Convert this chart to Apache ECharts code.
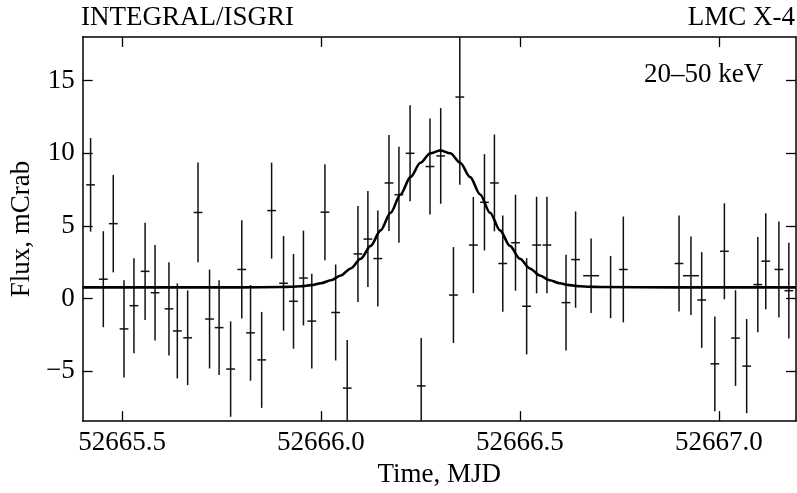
<!DOCTYPE html>
<html>
<head>
<meta charset="utf-8">
<script src="https://cdn.jsdelivr.net/npm/echarts@6/dist/echarts.min.js"></script>
<style>
html,body{margin:0;padding:0;background:#fff;}
#chart{width:797px;height:493px;}
</style>
</head>
<body>
<div id="chart"></div>
<script>
// Observed light curve (MJD, flux in mCrab, 1-sigma error, half bin width)
const mjd = [52665.421, 52665.453, 52665.478, 52665.505, 52665.530, 52665.558, 52665.583, 52665.618, 52665.639, 52665.665,
  52665.691, 52665.720, 52665.744, 52665.773, 52665.801, 52665.823, 52665.851, 52665.876, 52665.906, 52665.931,
  52665.956, 52665.977, 52666.010, 52666.037, 52666.066, 52666.093, 52666.118, 52666.143, 52666.171, 52666.196,
  52666.224, 52666.252, 52666.274, 52666.301, 52666.333, 52666.349, 52666.383, 52666.411, 52666.436, 52666.457,
  52666.489, 52666.517, 52666.542, 52666.568, 52666.616, 52666.640, 52666.679, 52666.728, 52666.760, 52666.900,
  52666.930, 52666.957, 52666.990, 52667.014, 52667.042, 52667.070, 52667.098, 52667.118, 52667.151, 52667.176];
const flux = [7.83, 1.34, 5.16, -2.08, -0.48, 1.88, 0.41, -0.70, -2.22, -2.69,
  5.93, -1.40, -1.99, -4.84, 2.01, -2.35, -4.21, 6.06, 1.06, -0.18,
  1.42, -1.54, 5.95, -0.95, -6.15, 3.08, 4.10, 2.76, 7.96, 7.15,
  10.0, -6.0, 9.09, 9.82, 0.25, 13.87, 3.69, 6.63, 7.96, 2.42,
  3.85, -0.52, 3.69, 3.69, -0.27, 2.69, 1.58, 0.80, 2.01, 2.42,
  1.58, -0.09, -4.48, 3.26, -2.71, -4.64, 0.97, 2.58, 2.01, 0.55];
const fluxErr = [3.22, 3.30, 3.35, 3.34, 3.27, 3.35, 3.28, 3.21, 3.27, 3.26,
  3.43, 3.40, 3.26, 3.28, 3.38, 3.29, 3.30, 3.30, 3.26, 3.26,
  3.26, 3.26, 3.30, 3.30, 3.30, 3.30, 3.30, 3.30, 3.30, 3.30,
  3.30, 3.30, 3.30, 3.29, 3.30, 6.04, 3.31, 3.31, 3.33, 3.31,
  3.30, 3.31, 3.32, 3.32, 3.29, 3.31, 2.56, 2.14, 3.64, 3.30,
  2.70, 3.29, 3.26, 3.30, 3.29, 3.24, 3.28, 3.30, 3.30, 3.29];
const binHalf = [0.011, 0.011, 0.011, 0.011, 0.011, 0.011, 0.011, 0.011, 0.011, 0.011,
  0.011, 0.011, 0.011, 0.011, 0.011, 0.011, 0.011, 0.011, 0.011, 0.011,
  0.011, 0.011, 0.011, 0.011, 0.011, 0.011, 0.011, 0.011, 0.011, 0.011,
  0.011, 0.011, 0.011, 0.011, 0.011, 0.011, 0.011, 0.011, 0.011, 0.011,
  0.011, 0.011, 0.011, 0.011, 0.011, 0.011, 0.020, 0.011, 0.011, 0.011,
  0.020, 0.011, 0.011, 0.011, 0.011, 0.011, 0.011, 0.011, 0.011, 0.011];

// Fitted curve
const fitMjd = [52665.401, 52665.600, 52665.800, 52665.900, 52665.925, 52665.950, 52665.975, 52666.000, 52666.025, 52666.050,
  52666.075, 52666.100, 52666.125, 52666.150, 52666.175, 52666.200, 52666.225, 52666.250, 52666.275, 52666.300,
  52666.325, 52666.350, 52666.375, 52666.400, 52666.425, 52666.450, 52666.475, 52666.500, 52666.525, 52666.550,
  52666.575, 52666.600, 52666.625, 52666.650, 52666.675, 52666.700, 52666.900, 52667.194];
const fitFlux = [0.78, 0.78, 0.78, 0.80, 0.82, 0.86, 0.93, 1.06, 1.27, 1.60,
  2.08, 2.75, 3.63, 4.70, 5.91, 7.17, 8.36, 9.35, 10.0, 10.2,
  10.0, 9.35, 8.36, 7.17, 5.91, 4.70, 3.63, 2.75, 2.08, 1.60,
  1.27, 1.06, 0.93, 0.86, 0.82, 0.80, 0.78, 0.78];

const xTicks = [52665.5, 52666.0, 52666.5, 52667.0];
const yTicks = [-5, 0, 5, 10, 15];
const xRange = [52665.401, 52667.194];
const yRange = [-8.42, 18.0];

const FONT = 'Liberation Serif';
const FS = 27;
const chart = echarts.init(document.getElementById('chart'), null, {renderer: 'canvas'});

const obsData = mjd.map((m, i) => [m, flux[i], fluxErr[i], binHalf[i]]);
const fitData = fitMjd.map((m, i) => [m, fitFlux[i]]);

function axisCommon(show) {
  return {
    type: 'value',
    min: xRange[0], max: xRange[1],
    axisLine: {show: true, onZero: false, lineStyle: {color: '#000', width: 1.5}},
    splitLine: {show: false},
    axisTick: {show: true, inside: true, length: 10, customValues: xTicks, lineStyle: {color: '#000', width: 1.3}},
    axisLabel: {show: show, customValues: xTicks, margin: 8, color: '#000', fontFamily: FONT, fontSize: FS,
      formatter: v => v.toFixed(1)}
  };
}
function yCommon(show) {
  return {
    type: 'value',
    min: yRange[0], max: yRange[1],
    axisLine: {show: true, onZero: false, lineStyle: {color: '#000', width: 1.5}},
    splitLine: {show: false},
    axisTick: {show: true, inside: true, length: 10, customValues: yTicks, lineStyle: {color: '#000', width: 1.3}},
    axisLabel: {show: show, customValues: yTicks, margin: 8, color: '#000', fontFamily: FONT, fontSize: FS,
      formatter: v => String(v).replace('-', '\u2212')}
  };
}

const xBottom = Object.assign(axisCommon(true), {position: 'bottom', name: 'Time, MJD', nameLocation: 'middle', nameGap: 39,
  nameTextStyle: {color: '#000', fontFamily: FONT, fontSize: FS}});
const xTop = Object.assign(axisCommon(false), {position: 'top'});
const yLeft = Object.assign(yCommon(true), {position: 'left', name: 'Flux, mCrab', nameLocation: 'middle', nameGap: 45,
  nameRotate: 90, nameTextStyle: {color: '#000', fontFamily: FONT, fontSize: FS}});
const yRight = Object.assign(yCommon(false), {position: 'right'});

function renderErr(params, api) {
  const cs = params.coordSys;
  const x = api.value(0), y = api.value(1), e = api.value(2), dx = api.value(3);
  const top = api.coord([x, y + e]);
  const bot = api.coord([x, y - e]);
  const l = api.coord([x - dx, y]);
  const r = api.coord([x + dx, y]);
  const clampY = v => Math.max(cs.y, Math.min(cs.y + cs.height, v));
  const style = {stroke: '#111', lineWidth: 1.5};
  const children = [{
    type: 'line', shape: {x1: top[0], y1: clampY(top[1]), x2: bot[0], y2: clampY(bot[1])}, style: style
  }];
  if (l[1] >= cs.y && l[1] <= cs.y + cs.height) {
    children.push({type: 'line', shape: {x1: l[0], y1: l[1], x2: r[0], y2: r[1]}, style: style});
  }
  return {type: 'group', children: children};
}

chart.setOption({
  animation: false,
  backgroundColor: '#fff',
  grid: {left: 81, top: 37, right: 1, bottom: 67, containLabel: false},
  xAxis: [xBottom, xTop],
  yAxis: [yLeft, yRight],
  graphic: [
    {type: 'text', left: 81, top: 4, style: {text: 'INTEGRAL/ISGRI', fontFamily: FONT, fontSize: FS, fill: '#000'}},
    {type: 'text', right: 2, top: 4, style: {text: 'LMC X-4', fontFamily: FONT, fontSize: FS, fill: '#000'}},
    {type: 'text', left: 644, top: 61, style: {text: '20\u201350 keV', fontFamily: FONT, fontSize: FS, fill: '#000'}}
  ],
  series: [
    {
      type: 'custom', xAxisIndex: 0, yAxisIndex: 0,
      renderItem: renderErr,
      data: obsData,
      encode: {x: 0, y: 1},
      z: 2
    },
    {
      type: 'line', xAxisIndex: 0, yAxisIndex: 0,
      data: fitData, showSymbol: false, smooth: 0.3, smoothMonotone: 'x',
      lineStyle: {color: '#000', width: 2.6}, clip: true, z: 3
    }
  ]
});
</script>
</body>
</html>
